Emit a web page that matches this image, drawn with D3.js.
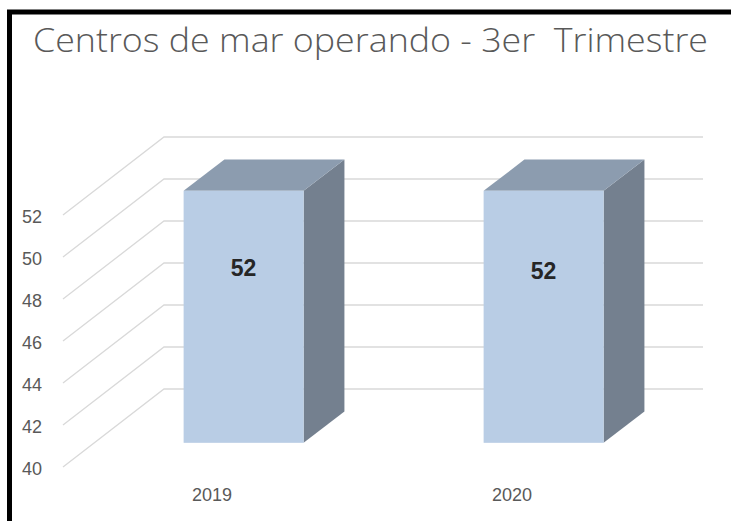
<!DOCTYPE html>
<html>
<head>
<meta charset="utf-8">
<script src="https://cdn.jsdelivr.net/npm/d3@7"></script>
<style>
  body { margin: 0; background: #fff; }
  svg { display: block; }
</style>
</head>
<body>
<div id="chart"></div>
<script>
// data
var years = ["2019", "2020"];
var centros = [52, 52];
var yTicks = [40, 42, 44, 46, 48, 50, 52];
var titleText = "Centros de mar operando - 3er  Trimestre";

var svgWidth = 731;
var svgHeight = 521;

var data = years.map(function(y, i) { return { year: y, value: centros[i] }; });

var svg = d3.select("#chart")
  .append("svg")
  .attr("width", svgWidth)
  .attr("height", svgHeight);

// frame
svg.append("rect")
  .attr("x", 9.5)
  .attr("y", 12)
  .attr("width", 800)
  .attr("height", 600)
  .attr("fill", "none")
  .attr("stroke", "#000")
  .attr("stroke-width", 5);

// title
svg.append("text")
  .attr("x", 33)
  .attr("y", 52)
  .attr("textLength", 675)
  .attr("lengthAdjust", "spacingAndGlyphs")
  .style("white-space", "pre")
  .style("font-family", "'Open Sans', 'Liberation Sans', sans-serif")
  .style("font-weight", 300)
  .style("font-size", "33px")
  .attr("fill", "#595959")
  .text(titleText);

// scales: front plane + depth offset for the 3D look
var xScale = d3.scaleBand()
  .domain(years)
  .range([62, 662])
  .paddingInner(0.6)
  .paddingOuter(0.3);

var yScale = d3.scaleLinear()
  .domain([40, 52])
  .range([467, 215]);

var depthX = d3.scaleLinear().domain([0, 1]).range([0, 102]);
var depthY = d3.scaleLinear().domain([0, 1]).range([0, -78]);

var barFront = 0.31, barBack = 0.71;
var wallLeft = 62;
var wallRight = 601;

// gridlines: diagonal on side wall + horizontal on back wall
var grid = svg.append("g").attr("class", "grid");
yTicks.forEach(function(t) {
  var y0 = yScale(t);
  grid.append("path")
    .attr("d", "M" + (wallLeft + 1) + "," + y0 +
               "L" + (wallLeft + depthX(1)) + "," + (y0 + depthY(1)) +
               "L" + (wallRight + depthX(1)) + "," + (y0 + depthY(1)))
    .attr("fill", "none")
    .attr("stroke", "#d9d9d9")
    .attr("stroke-width", 1.3);
});

// y axis labels
var leftAxis = d3.axisLeft(yScale)
  .tickValues(yTicks)
  .tickSize(0)
  .tickPadding(3)
  .tickFormat(d3.format("d"));

var yAxis = svg.append("g")
  .attr("transform", "translate(45, 2)")
  .call(leftAxis);
yAxis.select(".domain").remove();
yAxis.selectAll("text")
  .style("font-family", "'Liberation Sans', Arial, sans-serif")
  .style("font-size", "18px")
  .attr("fill", "#595959");

// bars
var bars = svg.selectAll(".bar")
  .data(data)
  .enter()
  .append("g")
  .attr("class", "bar");

function pt(x, v, d) {
  return (x + depthX(d)) + "," + (yScale(v) + depthY(d));
}

// side face
bars.append("path")
  .attr("d", function(d) {
    var xr = xScale(d.year) + xScale.bandwidth();
    return "M" + pt(xr, 40, barFront) + "L" + pt(xr, d.value, barFront) +
           "L" + pt(xr, d.value, barBack) + "L" + pt(xr, 40, barBack) + "Z";
  })
  .attr("fill", "#74808f");

// top face
bars.append("path")
  .attr("d", function(d) {
    var xl = xScale(d.year), xr = xl + xScale.bandwidth();
    return "M" + pt(xl, d.value, barFront) + "L" + pt(xr, d.value, barFront) +
           "L" + pt(xr, d.value, barBack) + "L" + pt(xl, d.value, barBack) + "Z";
  })
  .attr("fill", "#8c9caf");

// front face
bars.append("rect")
  .attr("x", function(d) { return xScale(d.year) + depthX(barFront); })
  .attr("y", function(d) { return yScale(d.value) + depthY(barFront); })
  .attr("width", xScale.bandwidth())
  .attr("height", function(d) { return yScale(40) - yScale(d.value); })
  .attr("fill", "#b9cde5");

// value labels
bars.append("text")
  .attr("x", function(d) { return xScale(d.year) + xScale.bandwidth() / 2 + depthX(barFront); })
  .attr("y", function(d, i) { return yScale(d.value) + depthY(barFront) + 85 + i * 3; })
  .attr("text-anchor", "middle")
  .style("font-family", "'Liberation Sans', Arial, sans-serif")
  .style("font-weight", "bold")
  .style("font-size", "23px")
  .attr("fill", "#262626")
  .text(function(d) { return d.value; });

// x axis labels (at the front edge of the floor)
var bottomAxis = d3.axisBottom(xScale).tickSize(0).tickPadding(0);
var xAxis = svg.append("g")
  .attr("transform", "translate(0, 488)")
  .call(bottomAxis);
xAxis.select(".domain").remove();
xAxis.selectAll("text")
  .style("font-family", "'Liberation Sans', Arial, sans-serif")
  .style("font-size", "18px")
  .attr("fill", "#595959");
</script>
</body>
</html>
